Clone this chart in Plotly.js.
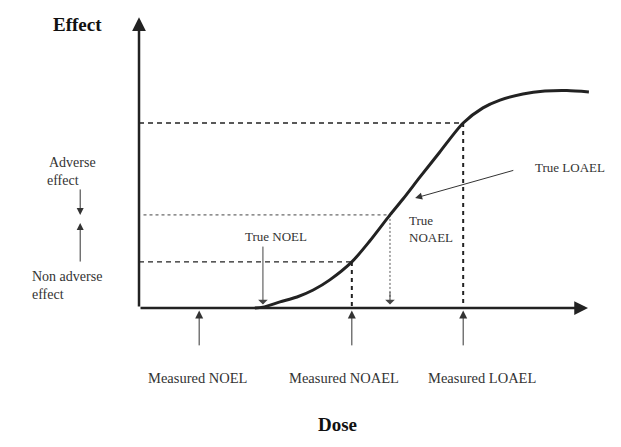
<!DOCTYPE html>
<html>
<head>
<meta charset="utf-8">
<script src="https://cdn.plot.ly/plotly-3.0.1.min.js"></script>
<style>
  html, body { margin: 0; padding: 0; background: #fff; }
  #chart { width: 621px; height: 447px; }
</style>
</head>
<body>
<div id="chart"></div>
<script>
// dose-response curve (dose 0..100 along the x axis, effect 0..100 up the y axis)
const curveDose   = [25.8, 27.6, 31.4, 35.2, 38.8, 42.5, 47.4, 51.4, 55.9, 58.8, 62.6, 67.0, 72.2, 76.6, 80.4, 85.5, 90.4, 95.3, 100.2];
const curveEffect = [0.0, 0.3, 2.1, 3.8, 6.2, 9.7, 15.9, 23.1, 32.1, 37.6, 45.2, 53.8, 63.8, 69.0, 71.7, 73.8, 74.8, 75.0, 74.5];

// levels marked by dashed guide lines
const levelNames  = ['Measured LOAEL', 'True NOAEL', 'Measured NOAEL'];
const levelDose   = [72.2, 55.9, 47.4];
const levelEffect = [63.8, 32.1, 15.9];

// measured doses on the dose axis
const measuredDose   = [13.4, 47.4, 72.2];
const measuredLabels = ['Measured NOEL', 'Measured NOAEL', 'Measured LOAEL'];
const measuredTextX  = [13.1, 45.7, 76.5];

const trueNoelDose = 27.6;

const axisMax = 100;
const ink = '#222';
const serif = '"Liberation Serif", "Times New Roman", serif';

const traces = [];

// horizontal guide lines from the effect axis to the curve
levelNames.forEach((name, i) => {
    const fine = name === 'True NOAEL';
    traces.push({
        x: [fine ? 1 : 0, levelDose[i]],
        y: [levelEffect[i], levelEffect[i]],
        type: 'scatter', mode: 'lines', hoverinfo: 'skip',
        line: { color: fine ? '#444' : '#222', width: fine ? 1 : 1.3, dash: fine ? '3px,3px' : '5px,4px' }
    });
});

// vertical guides down to the dose axis (measured ones dashed)
[0, 2].forEach(i => {
    traces.push({
        x: [levelDose[i], levelDose[i]],
        y: [levelEffect[i], 0],
        type: 'scatter', mode: 'lines', hoverinfo: 'skip',
        line: { color: '#222', width: 2, dash: '4px,4px' }
    });
});

// dotted drop from true NOAEL
traces.push({
    x: [levelDose[1], levelDose[1]],
    y: [levelEffect[1], 3],
    type: 'scatter', mode: 'lines', hoverinfo: 'skip',
    line: { color: '#555', width: 1, dash: '2px,2px' }
});

// the curve
traces.push({
    x: curveDose, y: curveEffect,
    type: 'scatter', mode: 'lines', hoverinfo: 'skip',
    line: { color: ink, width: 3, shape: 'spline', smoothing: 0.8 }
});

function arrow(x0, y0, x1, y1, width, head, size, color) {
    return {
        x: x1, y: y1, ax: x0, ay: y0,
        xref: 'x', yref: 'y', axref: 'x', ayref: 'y',
        text: '', showarrow: true,
        arrowhead: head, arrowsize: size, arrowwidth: width,
        arrowcolor: color || ink
    };
}

function label(text, x, y, size, opts) {
    return Object.assign({
        x: x, y: y, xref: 'x', yref: 'y',
        text: text, showarrow: false,
        font: { family: serif, size: size, color: '#333' }
    }, opts || {});
}

const annotations = [
    // axes
    arrow(0, 0, 0, 100.3, 2.5, 2, 1.1),
    arrow(0, 0, axisMax, 0, 2.5, 2, 1.1),

    // titles
    label('<b>Effect</b>', -13.6, 97.8, 19, { font: { family: serif, size: 19, color: '#111' } }),
    label('<b>Dose</b>', 44.1, -40.3, 19, { font: { family: serif, size: 19, color: '#111' } }),

    // left legend
    label('Adverse', -20.5, 50.3, 14, { xanchor: 'left' }),
    label('effect', -20.9, 44.1, 14, { xanchor: 'left' }),
    arrow(-13.1, 41.4, -13.1, 32.1, 1, 2, 1.4, '#333'),
    arrow(-13.1, 15.5, -13.1, 29.3, 1, 2, 1.4, '#333'),
    label('Non adverse', -24.3, 10.7, 14, { xanchor: 'left' }),
    label('effect', -24.3, 4.5, 14, { xanchor: 'left' }),

    // true levels
    label('True NOEL', 30.5, 24.5, 13),
    arrow(trueNoelDose, 21.7, trueNoelDose, 1.2, 1, 1, 1.6, '#444'),
    label('True<br>NOAEL', 59.7, 27.1, 13, { xanchor: 'left', align: 'left' }),
    arrow(levelDose[1], 6, levelDose[1], 1.2, 1, 1, 1.6, '#444'),
    label('True LOAEL', 87.8, 48.3, 13, { xanchor: 'left' }),
    arrow(83.7, 47.6, 61.5, 37.9, 1, 2, 1.4, '#333')
];

// measured dose arrows and labels
measuredDose.forEach((d, i) => {
    annotations.push(arrow(d, -13.4, d, -0.9, 1, 2, 1.6, '#333'));
    annotations.push(label(measuredLabels[i], measuredTextX[i], -24.1, 14.5));
});

const layout = {
    width: 621, height: 447,
    margin: { l: 0, r: 0, t: 0, b: 0 },
    paper_bgcolor: '#fff', plot_bgcolor: '#fff',
    showlegend: false,
    xaxis: { range: [-30.96, 107.35], visible: false, fixedrange: true },
    yaxis: { range: [-47.93, 106.21], visible: false, fixedrange: true },
    annotations: annotations
};

Plotly.newPlot('chart', traces, layout, { staticPlot: true });
</script>
</body>
</html>
